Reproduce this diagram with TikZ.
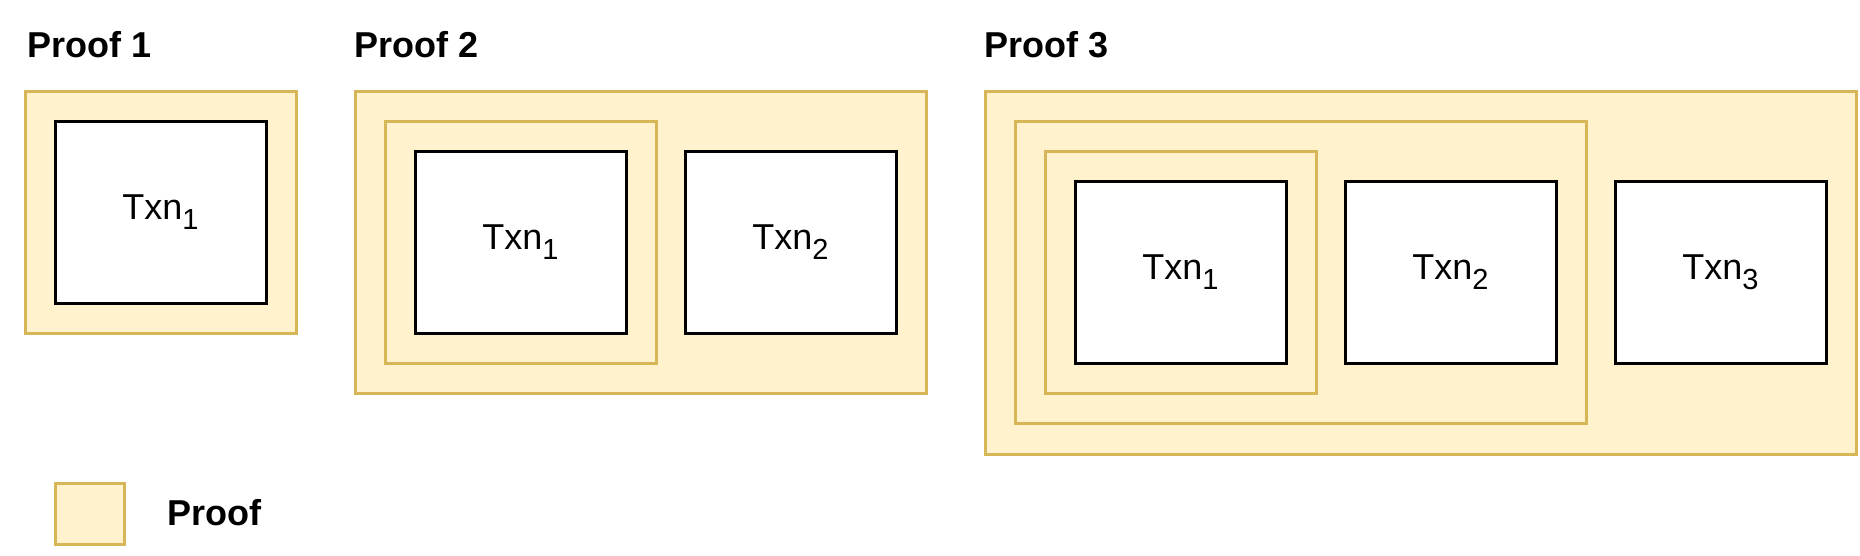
\documentclass[tikz,border=0pt]{standalone}
\usepackage{fontspec}
\setmainfont{Liberation Sans}
\usepackage{tikz}
\usetikzlibrary{positioning}
\definecolor{proofFill}{HTML}{FFF2CC}
\definecolor{proofLine}{HTML}{D6B656}
\newcommand{\txn}[1]{Txn\raisebox{-10pt}{\fontsize{29}{29}\selectfont #1}}

\begin{document}
\begin{tikzpicture}[x=1pt, y=-1pt,
  proofbox/.style={draw=proofLine, fill=proofFill, line width=3pt,
    anchor=north west, inner sep=0pt, outer sep=0pt},
  txnbox/.style={draw=black, fill=white, line width=3pt, anchor=north west,
    minimum width=211pt, minimum height=181.5pt, inner sep=0pt, outer sep=0pt,
    font=\fontsize{36}{40}\selectfont},
  title/.style={anchor=base west, inner sep=0pt,
    font=\bfseries\fontsize{36}{40}\selectfont}]
  \useasboundingbox (0,0) rectangle (1860,555);

  \node (title1) [title] at (27,57) {Proof 1};
  \node (title2) [title] at (354,57) {Proof 2};
  \node (title3) [title] at (984.5,57) {Proof 3};

  \node (p1) [proofbox, minimum width=271pt, minimum height=241.5pt] at (25,91.5) {};
  \node (p1t1) [txnbox] at (55,121.5) {\txn{1}};

  \node (p2) [proofbox, minimum width=571pt, minimum height=301.5pt] at (355,91.5) {};
  \node (p2in) [proofbox, minimum width=271pt, minimum height=241.5pt] at (385,121.5) {};
  \node (p2t1) [txnbox] at (415,151.5) {\txn{1}};
  \node (p2t2) [txnbox, right=29pt of p2in] {\txn{2}};

  \node (p3) [proofbox, minimum width=871pt, minimum height=362.5pt] at (985,91.5) {};
  \node (p3in1) [proofbox, minimum width=571pt, minimum height=301.5pt] at (1015,121.5) {};
  \node (p3in2) [proofbox, minimum width=271pt, minimum height=241.5pt] at (1045,151.5) {};
  \node (p3t1) [txnbox] at (1075,181.5) {\txn{1}};
  \node (p3t2) [txnbox, right=29pt of p3in2] {\txn{2}};
  \node (p3t3) [txnbox, right=29pt of p3in1] {\txn{3}};

  \node (legend) [proofbox, minimum width=69pt, minimum height=61pt] at (55,483.5) {};
  \node (legendtext) [title] at (167,525) {Proof};
\end{tikzpicture}
\end{document}
